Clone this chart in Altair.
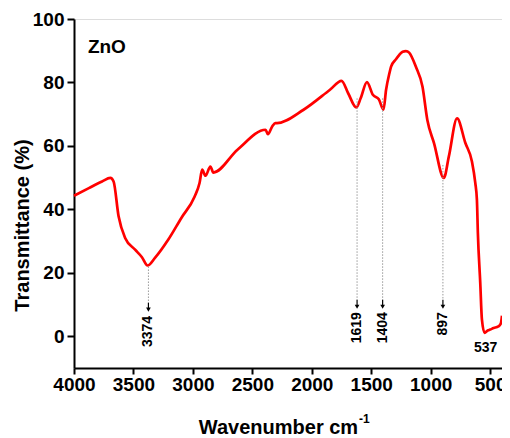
import altair as alt
import pandas as pd

# Spectrum (wavenumber cm-1, transmittance %)
wavenumber = [4000, 3875, 3764, 3694, 3667, 3625, 3570, 3486, 3430, 3381, 3319, 3208, 3097,
              2986, 2944, 2922, 2894, 2853, 2828, 2625, 2389, 2369, 2333, 2306, 2292, 2069,
              1847, 1750, 1694, 1625, 1589, 1536, 1486, 1436, 1397, 1375, 1347, 1333, 1292,
              1264, 1236, 1208, 1181, 1125, 1069, 1028, 972, 889, 847, 778, 708, 653, 625,
              611, 603, 583, 569, 547, 520, 500, 470, 431, 410, 400]
transmittance = [44.3, 46.7, 48.8, 49.9, 48.8, 37.8, 31.0, 27.3, 25.0, 22.3, 24.7, 30.4, 37.3,
                 44.0, 48.3, 52.5, 50.6, 53.5, 51.6, 58.8, 65.1, 63.7, 66.1, 67.2, 67.2, 71.4,
                 77.7, 80.5, 76.6, 72.1, 75.0, 80.1, 76.1, 74.7, 71.4, 77.7, 82.9, 85.0, 87.3,
                 88.7, 89.7, 89.9, 89.4, 85.0, 78.7, 68.2, 60.9, 49.9, 56.7, 68.7, 60.9, 55.1, 48.4,
                 43.0, 32.6, 16.9, 5.3, 1.1, 1.8, 2.1, 2.6, 3.1, 4.0, 6.5]

# Peak annotations
peak_pos = [3374, 1619, 1404, 897]
peak_labels = ["3374", "1619", "1404", "897"]
line_top = [22.0, 75.0, 75.0, 54.0]
arrow_at = [8.4, 9.3, 9.3, 9.3]
text_top = [6.4, 7.6, 7.6, 7.6]

x_ticks = [4000, 3500, 3000, 2500, 2000, 1500, 1000, 500]
y_ticks = [0, 20, 40, 60, 80, 100]

FONT = "Liberation Sans"

spec = pd.DataFrame({"w": wavenumber, "t": transmittance})
peaks = pd.DataFrame({"w": peak_pos, "label": peak_labels, "top": line_top,
                      "arrow": arrow_at, "shaft": [a + 2.2 for a in arrow_at],
                      "text": text_top})

xs = alt.Scale(domain=[4000, 400], nice=False, zero=False)
ys = alt.Scale(domain=[-10, 100], nice=False, zero=False)

xaxis = alt.Axis(values=x_ticks, format="d", grid=False, tickSize=6, tickWidth=2, domainWidth=2,
                 domainColor="black", tickColor="black", labelColor="black",
                 labelFont=FONT, labelFontSize=19, labelFontWeight="bold", labelPadding=1,
                 labelFlush=False, labelOverlap=False,
                 title="Wavenumber cm", titleFont=FONT, titleFontSize=20, titleFontWeight="bold",
                 titleColor="black", titleX=204, titleY=59, titleBaseline="middle",
                 titleAlign="center")
yaxis = alt.Axis(values=y_ticks, format="d", grid=False, tickSize=7, tickWidth=2, domainWidth=2,
                 domainColor="black", tickColor="black", labelColor="black",
                 labelFont=FONT, labelFontSize=19, labelFontWeight="bold", labelPadding=3,
                 labelFlush=False,
                 title="Transmittance (%)", titleFont=FONT, titleFontSize=20,
                 titleFontWeight="bold", titleColor="black", titleAngle=270,
                 titleX=-52, titleY=206, titleAlign="center", titleBaseline="middle")

line = alt.Chart(spec).mark_line(color="#ff0000", strokeWidth=2.7, interpolate="monotone").encode(
    x=alt.X("w:Q", scale=xs, axis=xaxis),
    y=alt.Y("t:Q", scale=ys, axis=yaxis),
    order=alt.Order("w:Q", sort="descending"),
)

dotted = alt.Chart(peaks).mark_rule(color="#9a9a9a", strokeWidth=1, strokeDash=[1.5, 1.5]).encode(
    x="w:Q", y="top:Q", y2="shaft:Q")
shaft = alt.Chart(peaks).mark_rule(color="black", strokeWidth=1.2).encode(
    x="w:Q", y="shaft:Q", y2="arrow:Q")
heads = alt.Chart(peaks).mark_point(shape="triangle-down", filled=True, color="black",
                                    size=22, opacity=1).encode(x="w:Q", y="arrow:Q")
ptext = alt.Chart(peaks).mark_text(angle=270, align="right", baseline="middle", font=FONT,
                                   fontSize=14, fontWeight="bold", color="black").encode(
    x="w:Q", y="text:Q", text="label:N")

lbl537 = alt.Chart(pd.DataFrame({"w": [537], "t": [-3.7], "s": ["537"]})).mark_text(
    align="center", baseline="middle", font=FONT, fontSize=14, fontWeight="bold",
    color="black").encode(x="w:Q", y="t:Q", text="s:N")

zno = alt.Chart(pd.DataFrame({"w": [3883], "t": [91.2], "s": ["ZnO"]})).mark_text(
    align="left", baseline="middle", font=FONT, fontSize=19, fontWeight="bold",
    color="black").encode(x="w:Q", y="t:Q", text="s:N")

sup = alt.Chart(pd.DataFrame({"s": ["-1"]})).mark_text(
    align="left", baseline="middle", font=FONT, fontSize=12, fontWeight="bold",
    color="black").encode(x=alt.value(285), y=alt.value(400), text="s:N")

chart = alt.layer(line, dotted, shaft, heads, ptext, lbl537, zno, sup).properties(
    width=428, height=349,
    autosize=alt.AutoSizeParams(type="none"),
    padding={"left": 66, "top": 11, "right": 0, "bottom": 70},
).configure_view(stroke="black", strokeWidth=2).configure(background="white")

chart.save("out.html", embed_options={"renderer": "svg", "actions": False})
